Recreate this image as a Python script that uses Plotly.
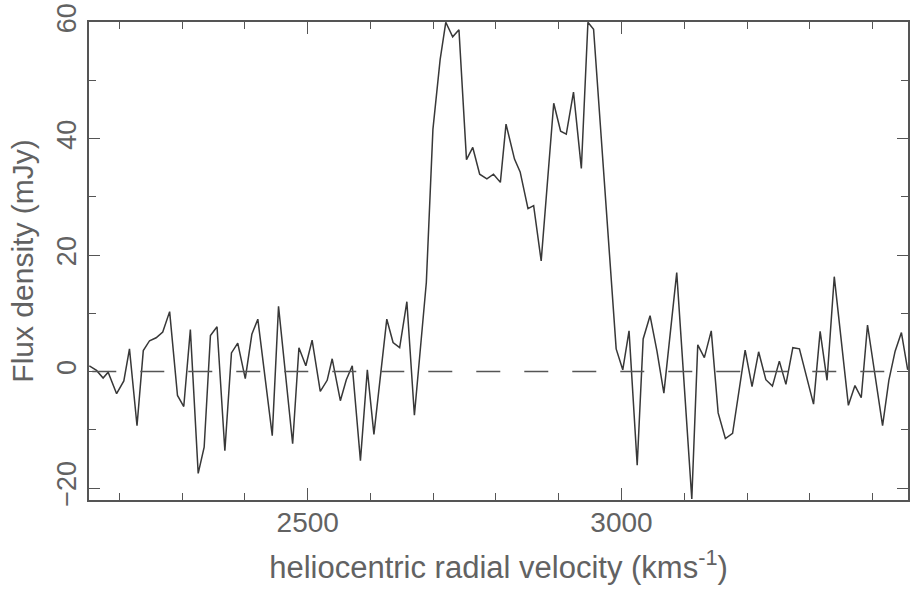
import plotly.graph_objects as go

# Heliocentric radial velocity (km/s) of each plotted channel vertex
velocity = [2152, 2163.5, 2174, 2182, 2195.5, 2207, 2216, 2228, 2238, 2248,
            2258.5, 2269, 2280, 2292.5, 2302.5, 2313, 2325.5, 2335, 2345, 2355.5,
            2368, 2378.5, 2388.5, 2400.5, 2411, 2420.5, 2443.5, 2453.5, 2476, 2486,
            2497, 2507, 2520, 2531, 2539, 2552, 2561.5, 2571, 2584, 2595,
            2605.5, 2626, 2636, 2646.5, 2658, 2670, 2689, 2699.5, 2711, 2720,
            2731, 2741, 2753, 2763, 2774, 2785.5, 2796, 2807, 2816, 2829.5,
            2838.5, 2851, 2860, 2872, 2892, 2903, 2912, 2923.5, 2936, 2946.5,
            2955.5, 2991.5, 3002, 3012, 3025, 3034.5, 3045.5, 3056.5, 3067.5, 3088,
            3112, 3121.5, 3132, 3143, 3154, 3165.5, 3177, 3197, 3208, 3218.5,
            3230, 3240.5, 3251.5, 3262, 3273, 3283.5, 3306, 3316.5, 3327.5, 3339,
            3361.5, 3372, 3382, 3392, 3416, 3426, 3436, 3446, 3456]

# Flux density (mJy)
flux = [1.0, 0.2, -1.1, -0.1, -3.8, -1.6, 3.9, -9.3, 3.6, 5.3,
        5.8, 6.8, 10.3, -4.1, -6.0, 7.2, -17.5, -13.0, 6.2, 7.7,
        -13.6, 3.2, 4.9, -1.2, 6.4, 9.0, -11.0, 11.2, -12.4, 4.1,
        1.0, 5.4, -3.4, -1.5, 2.2, -5.0, -1.4, 1.0, -15.3, 0.3,
        -10.8, 9.0, 5.0, 4.1, 12.0, -7.5, 15.3, 41.6, 53.6, 60.0,
        57.5, 58.7, 36.4, 38.5, 33.9, 33.1, 33.9, 32.5, 42.5, 36.5,
        34.3, 28.0, 28.5, 19.0, 46.1, 41.3, 40.8, 48.0, 34.9, 60.0,
        58.8, 3.9, 0.3, 7.0, -16.1, 5.6, 9.6, 3.5, -3.7, 17.0,
        -21.9, 4.6, 2.4, 7.0, -7.1, -11.5, -10.6, 3.7, -2.6, 3.4,
        -1.4, -2.5, 1.8, -2.2, 4.1, 3.9, -5.6, 6.9, -1.5, 16.3,
        -5.8, -2.4, -4.5, 8.0, -9.3, -1.5, 3.5, 6.7, 0.3]

x_range = [2151.5, 3456.5]
y_range = [-22.06, 60.05]
x_title = "heliocentric radial velocity (kms<sup>-1</sup>)\u00a0\u00a0"
y_title = "Flux density (mJy)"

INK = "#555555"
LINE = "#383838"
TEXT = "#626262"
FONT = "Liberation Sans, Arial, sans-serif"

fig = go.Figure()
fig.add_trace(go.Scatter(x=velocity, y=flux, mode="lines",
                         line=dict(color=LINE, width=1.5), hoverinfo="x+y"))

fig.add_shape(type="line", xref="paper", yref="y", x0=0.004, x1=1, y0=0, y1=0,
              line=dict(color=INK, width=1.5, dash="24px,24px"))

axis_common = dict(
    showline=True, linecolor=INK, linewidth=1.8, mirror="ticks",
    ticks="inside", tickcolor=INK, tickwidth=1.4,
    showgrid=False, zeroline=False, automargin=False,
    tickfont=dict(family=FONT, size=28, color=TEXT),
)

fig.update_xaxes(range=x_range, tick0=0, dtick=500, ticklen=12,
                 ticklabelstandoff=-4,
                 minor=dict(tick0=0, dtick=100, ticks="inside", ticklen=7,
                            tickcolor=INK, tickwidth=1.3, showgrid=False),
                 title=dict(text=x_title, standoff=20,
                            font=dict(family=FONT, size=31, color=TEXT)),
                 **axis_common)
fig.update_yaxes(range=y_range, tick0=0, dtick=20, ticklen=11, tickangle=-90,
                 tickfont=dict(family=FONT, size=27, color=TEXT),
                 minor=dict(tick0=0, dtick=10, ticks="inside", ticklen=7,
                            tickcolor=INK, tickwidth=1.3, showgrid=False),
                 title=dict(text=y_title, standoff=10,
                            font=dict(family=FONT, size=30, color=TEXT)),
                 **{k: v for k, v in axis_common.items() if k != "tickfont"})

fig.update_layout(width=919, height=589,
                  margin=dict(l=89, r=11, t=22, b=89),
                  paper_bgcolor="white", plot_bgcolor="white",
                  showlegend=False,
                  font=dict(family=FONT, color=TEXT))

# remove the browser's default 8px page margin so the 919x589 figure fills the window
fig.write_html("out.html",
               config={"displayModeBar": False},
               post_script="document.body.style.margin='0';document.body.style.overflow='hidden';")
